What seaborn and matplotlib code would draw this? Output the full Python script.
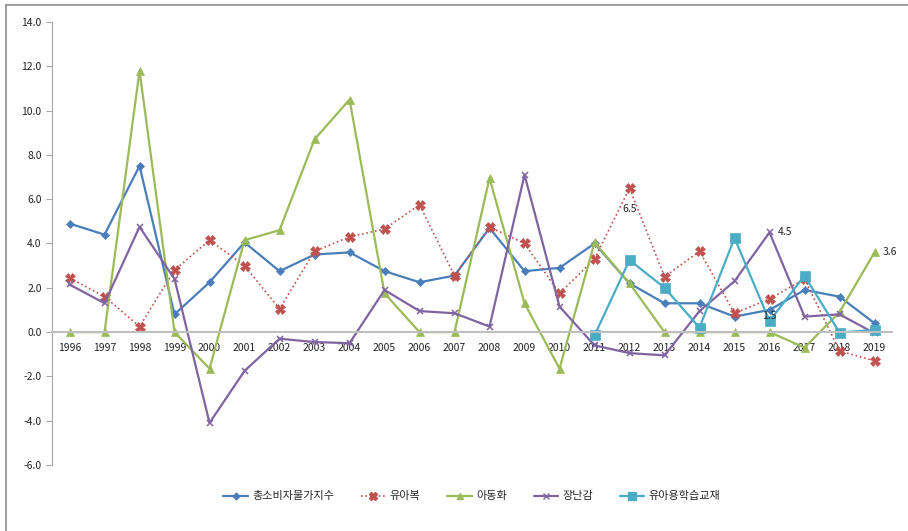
import matplotlib
matplotlib.use("Agg")
import matplotlib.pyplot as plt
from matplotlib.lines import Line2D
import seaborn as sns
import pandas as pd
import numpy as np

years = [str(y) for y in range(1996, 2020)]

cpi_total = [4.9, 4.4, 7.5, 0.8, 2.25, 4.05, 2.75, 3.5, 3.6, 2.75, 2.25, 2.55,
             4.7, 2.75, 2.9, 4.0, 2.2, 1.3, 1.3, 0.7, 1.0, 1.9, 1.6, 0.4]
baby_clothes = [2.45, 1.6, 0.25, 2.8, 4.15, 3.0, 1.05, 3.65, 4.3, 4.65, 5.75, 2.55,
                4.75, 4.0, 1.75, 3.3, 6.5, 2.5, 3.65, 0.85, 1.5, 2.4, -0.85, -1.3]
kids_shoes = [0.0, 0.0, 11.8, 0.0, -1.65, 4.15, 4.6, 8.7, 10.5, 1.75, 0.0, 0.0,
              6.95, 1.3, -1.65, 4.05, 2.2, 0.0, 0.0, 0.0, 0.0, -0.7, 0.9, 3.6]
toys = [2.15, 1.3, 4.75, 2.4, -4.1, -1.75, -0.3, -0.45, -0.5, 1.9, 0.95, 0.85,
        0.25, 7.1, 1.15, -0.6, -0.95, -1.05, 0.95, 2.3, 4.5, 0.7, 0.8, -0.05]
study_books = [np.nan] * 15 + [-0.15, 3.25, 2.0, 0.2, 4.25, 0.5, 2.55, -0.02, 0.1]

names = ["총소비자물가지수", "유아복", "아동화", "장난감", "유아용학습교재"]

df = pd.DataFrame({
    "pos": np.arange(len(years)),
    names[0]: cpi_total,
    names[1]: baby_clothes,
    names[2]: kids_shoes,
    names[3]: toys,
    names[4]: study_books,
})

styles = {
    names[0]: dict(color="#4A7EBB", marker="D", ms=4, ls="-"),
    names[1]: dict(color="#C0504D", marker="X", ms=7, ls=":"),
    names[2]: dict(color="#9BBB59", marker="^", ms=5.5, ls="-"),
    names[3]: dict(color="#8064A2", marker="x", ms=5, ls="-"),
    names[4]: dict(color="#4BACC6", marker="s", ms=6.5, ls="-"),
}

sns.set_style("white")
plt.rcParams["font.family"] = ["Noto Sans CJK KR", "DejaVu Sans"]

fig = plt.figure(figsize=(9.08, 5.31), dpi=100)
ax = fig.add_axes([0.0573, 0.1243, 0.9251, 0.8343])

handles = []
for name in names:
    st = styles[name]
    lw = 1.6 if st["ls"] == "-" else 1.2
    sns.lineplot(data=df, x="pos", y=name, ax=ax, color=st["color"],
                 linestyle=st["ls"], linewidth=lw,
                 marker=st["marker"], markersize=st["ms"],
                 markeredgecolor=st["color"], markeredgewidth=1.1 if st["marker"] == "x" else 0.5)
    handles.append(Line2D([0], [0], color=st["color"], linestyle=st["ls"], linewidth=lw,
                          marker=st["marker"], markersize=st["ms"] * 0.85,
                          markeredgecolor=st["color"]))

# data labels
ax.annotate(f"{baby_clothes[16]:.1f}", (16, baby_clothes[16]), xytext=(0, -15),
            textcoords="offset points", ha="center", va="center", fontsize=7.5)
ax.annotate(f"{baby_clothes[20]:.1f}", (20, baby_clothes[20]), xytext=(0, -12),
            textcoords="offset points", ha="center", va="center", fontsize=7.5)
ax.annotate(f"{toys[20]:.1f}", (20, toys[20]), xytext=(6, 0),
            textcoords="offset points", ha="left", va="center", fontsize=7.5)
ax.annotate(f"{kids_shoes[23]:.1f}", (23, kids_shoes[23]), xytext=(6, 0),
            textcoords="offset points", ha="left", va="center", fontsize=7.5)

ax.set_xlim(-0.5, len(years) - 0.5)
ax.set_ylim(-6, 14)
ax.set_yticks(np.arange(-6, 15, 2))
ax.set_yticklabels([f"{v:.1f}" for v in np.arange(-6, 15, 2)])
ax.set_xticks(np.arange(len(years)))
ax.set_xticklabels(years)
ax.set_xticks(np.arange(-0.5, len(years), 1), minor=True)
ax.set_xlabel("")
ax.set_ylabel("")

for side in ["top", "right"]:
    ax.spines[side].set_visible(False)
ax.spines["bottom"].set_position(("data", 0))
ax.spines["bottom"].set_color("#BFBFBF")
ax.spines["bottom"].set_linewidth(1.5)
ax.spines["left"].set_color("#A6A6A6")
ax.tick_params(axis="x", which="major", length=0, pad=8, labelsize=7.5, colors="#222222")
ax.tick_params(axis="x", which="minor", length=4, direction="out", color="#A6A6A6", width=1)
ax.tick_params(axis="y", length=4, direction="out", labelsize=7.5, left=True,
               colors="#A6A6A6", labelcolor="#222222")

ax.legend(handles, names, loc="center", bbox_to_anchor=(0.5, -0.071), ncol=5,
          frameon=False, fontsize=8, handlelength=2.2, columnspacing=2.4, handletextpad=0.4)

# outer chart border (top and left edges visible)
fig.add_artist(Line2D([6 / 908, 1], [1 - 5 / 531, 1 - 5 / 531], color="#8C8C8C", lw=1.2))
fig.add_artist(Line2D([6 / 908, 6 / 908], [0, 1 - 5 / 531], color="#8C8C8C", lw=1.2))

fig.savefig("out.png", dpi=100)
